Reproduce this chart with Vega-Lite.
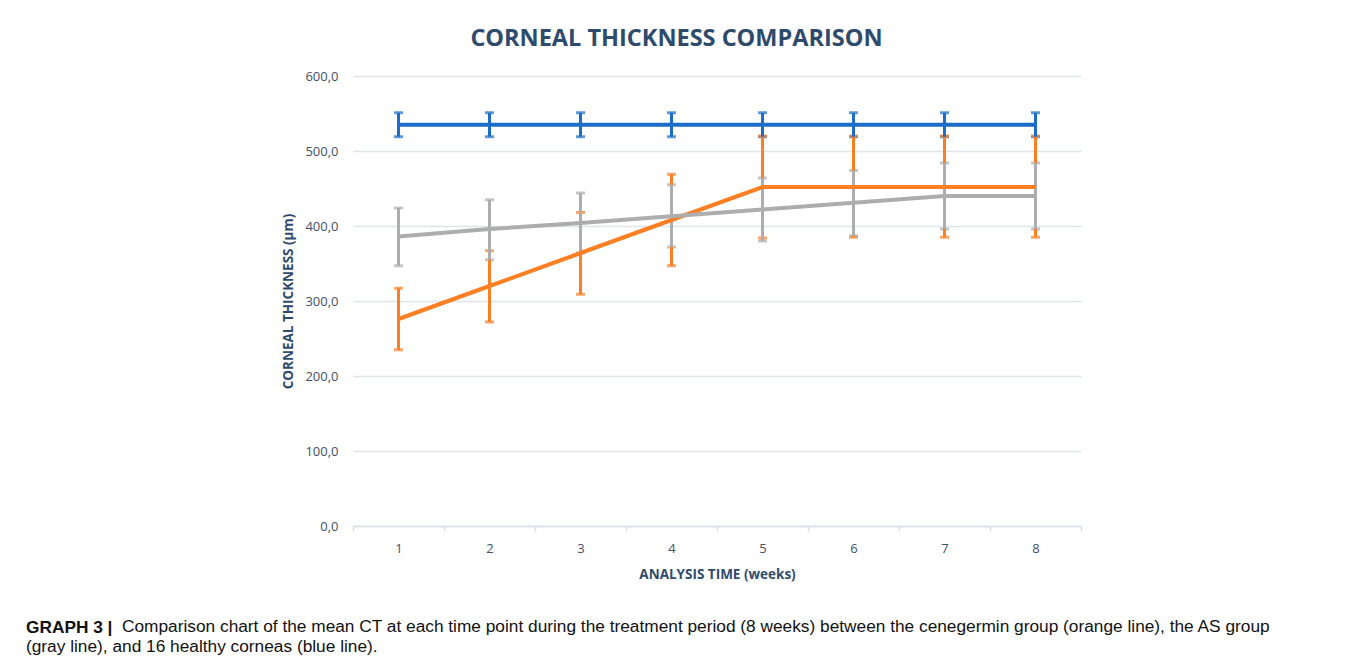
{
  "$schema": "https://vega.github.io/schema/vega-lite/v6.json",
  "padding": {"left": 26, "top": 26, "right": 10, "bottom": 5},
  "background": "white",
  "title": {
    "text": "CORNEAL THICKNESS COMPARISON",
    "anchor": "middle",
    "dx": 28,
    "font": "Open Sans",
    "fontSize": 23.5,
    "fontWeight": "bold",
    "color": "#2f4b6c",
    "offset": 20
  },
  "datasets": {
    "ct": [
      {"week": 1, "group": "Cenegermin", "mean": 276, "lo": 235, "hi": 317},
      {"week": 2, "group": "Cenegermin", "mean": 320, "lo": 272, "hi": 367},
      {"week": 3, "group": "Cenegermin", "mean": 364, "lo": 309, "hi": 418},
      {"week": 4, "group": "Cenegermin", "mean": 408, "lo": 347, "hi": 469},
      {"week": 5, "group": "Cenegermin", "mean": 452, "lo": 384, "hi": 520},
      {"week": 6, "group": "Cenegermin", "mean": 452, "lo": 385, "hi": 520},
      {"week": 7, "group": "Cenegermin", "mean": 452, "lo": 385, "hi": 520},
      {"week": 8, "group": "Cenegermin", "mean": 452, "lo": 385, "hi": 520},
      {"week": 1, "group": "AS", "mean": 386, "lo": 347, "hi": 424},
      {"week": 2, "group": "AS", "mean": 396, "lo": 355, "hi": 435},
      {"week": 3, "group": "AS", "mean": 404, "lo": 364, "hi": 444},
      {"week": 4, "group": "AS", "mean": 413, "lo": 372, "hi": 455},
      {"week": 5, "group": "AS", "mean": 422, "lo": 380, "hi": 464},
      {"week": 6, "group": "AS", "mean": 431, "lo": 387, "hi": 474},
      {"week": 7, "group": "AS", "mean": 440, "lo": 396, "hi": 484},
      {"week": 8, "group": "AS", "mean": 440, "lo": 396, "hi": 484},
      {"week": 1, "group": "Healthy", "mean": 535, "lo": 519, "hi": 551},
      {"week": 2, "group": "Healthy", "mean": 535, "lo": 519, "hi": 551},
      {"week": 3, "group": "Healthy", "mean": 535, "lo": 519, "hi": 551},
      {"week": 4, "group": "Healthy", "mean": 535, "lo": 519, "hi": 551},
      {"week": 5, "group": "Healthy", "mean": 535, "lo": 519, "hi": 551},
      {"week": 6, "group": "Healthy", "mean": 535, "lo": 519, "hi": 551},
      {"week": 7, "group": "Healthy", "mean": 535, "lo": 519, "hi": 551},
      {"week": 8, "group": "Healthy", "mean": 535, "lo": 519, "hi": 551}
    ]
  },
  "vconcat": [
    {
      "title": {
        "text": "GRAPH 3 |",
        "orient": "bottom",
        "anchor": "start",
        "offset": -36,
        "font": "Liberation Sans",
        "fontSize": 17.3,
        "fontWeight": "bold",
        "color": "#111111"
      },
      "vconcat": [
        {
          "width": 728,
          "height": 450,
          "data": {"name": "ct"},
          "title": {
            "text": ["\u200b\u00a0\u00a0\u00a0\u00a0\u00a0\u00a0\u00a0\u00a0\u00a0\u00a0\u00a0\u00a0\u00a0\u00a0\u00a0\u00a0\u00a0\u00a0\u00a0\u00a0Comparison chart of the mean CT at each time point during the treatment period (8 weeks) between the cenegermin group (orange line), the AS group", "(gray line), and 16 healthy corneas (blue line)."],
            "orient": "bottom",
            "anchor": "start",
            "frame": "group",
            "dx": -327,
            "offset": 37,
            "font": "Liberation Sans",
            "fontSize": 17.3,
            "fontWeight": "normal",
            "color": "#111111",
            "lineHeight": 20
          },
          "encoding": {
            "x": {
              "field": "week",
              "type": "ordinal",
              "scale": {"type": "band", "paddingInner": 0, "paddingOuter": 0},
              "axis": {
                "title": "ANALYSIS TIME (weeks)",
                "labelAngle": 0,
                "tickBand": "extent",
                "grid": false,
                "domainColor": "#d9dfe6",
                "domainWidth": 1.5,
                "tickColor": "#d9dfe6",
                "tickWidth": 1.5,
                "tickSize": 5,
                "labelPadding": 11,
                "titlePadding": 12
              }
            }
          },
          "layer": [
            {
              "mark": {"type": "errorbar", "ticks": {"size": 9, "thickness": 3}, "rule": {"strokeWidth": 3}},
              "encoding": {
                "y": {
                  "field": "lo",
                  "type": "quantitative",
                  "scale": {"domain": [0, 600], "nice": false},
                  "axis": {
                    "title": "CORNEAL THICKNESS (µm)",
                    "values": [0, 100, 200, 300, 400, 500, 600],
                    "labelExpr": "replace(format(datum.value, '.1f'), '.', ',')",
                    "domain": false,
                    "ticks": false,
                    "gridColor": "#dde4ec",
                    "gridWidth": 1.5,
                    "labelPadding": 15,
                    "titlePadding": 9
                  }
                },
                "y2": {"field": "hi"},
                "color": {
                  "field": "group",
                  "type": "nominal",
                  "scale": {"domain": ["Cenegermin", "AS", "Healthy"], "range": ["#fd7f23", "#adadad", "#1c6dc7"]},
                  "legend": null
                }
              }
            },
            {
              "mark": {"type": "line", "strokeWidth": 4},
              "encoding": {
                "y": {"field": "mean", "type": "quantitative"},
                "color": {"field": "group", "type": "nominal"}
              }
            }
          ]
        }
      ]
    }
  ],
  "config": {
    "view": {"stroke": null},
    "axis": {
      "labelFont": "Open Sans",
      "labelFontSize": 13,
      "labelColor": "#3f5068",
      "titleFont": "Open Sans",
      "titleFontSize": 13.5,
      "titleFontWeight": "bold",
      "titleColor": "#2f4b6c"
    }
  }
}
